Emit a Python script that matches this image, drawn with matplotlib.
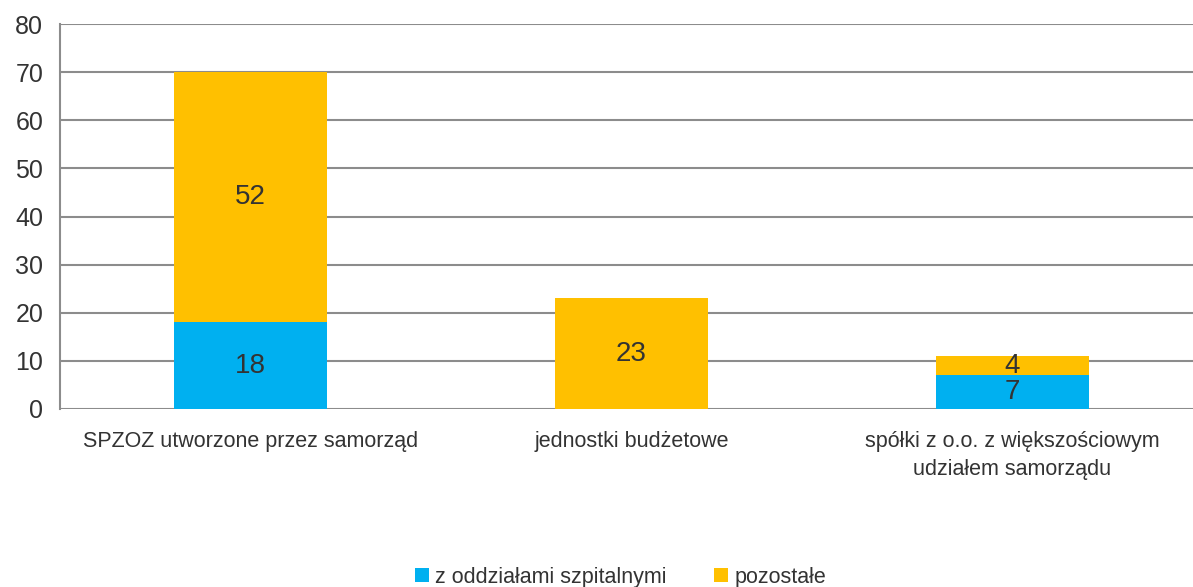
import matplotlib
matplotlib.use("Agg")
import matplotlib.pyplot as plt

categories = ["SPZOZ utworzone przez samorząd", "jednostki budżetowe",
              "spółki z o.o. z większościowym\nudziałem samorządu"]
series_names = ["z oddziałami szpitalnymi", "pozostałe"]
with_wards = [18, 0, 7]
other = [52, 23, 4]
yticks = [0, 10, 20, 30, 40, 50, 60, 70, 80]

blue = "#00B0F0"
orange = "#FFC000"

plt.rcParams["font.family"] = ["Liberation Sans", "DejaVu Sans"]
plt.rcParams["text.color"] = "#333333"

fig = plt.figure(figsize=(11.93, 5.87), dpi=100)
ax = fig.add_axes([60 / 1193, 1 - 409 / 587, 1 - 60 / 1193, 385 / 587])

x = list(range(len(categories)))
w = 0.4
ax.bar(x, with_wards, width=w, color=blue, label=series_names[0], zorder=3)
ax.bar(x, other, width=w, bottom=with_wards, color=orange, label=series_names[1], zorder=3)

for i in x:
    if with_wards[i]:
        ax.text(i, with_wards[i] / 2, str(with_wards[i]), ha="center", va="center",
                fontsize=20, zorder=4)
    if other[i]:
        ax.text(i, with_wards[i] + other[i] / 2, str(other[i]), ha="center", va="center",
                fontsize=20, zorder=4)

ax.set_ylim(0, 80)
ax.set_xlim(-0.5, 2.474)
ax.set_yticks(yticks)
ax.yaxis.grid(True, color="#8c8c8c", linewidth=1.5, zorder=0)
ax.tick_params(axis="y", length=0, labelsize=18, pad=12, labelcolor="#333333")
ax.tick_params(axis="x", length=0, labelsize=15.5, pad=16, labelcolor="#333333")
ax.set_xticks(x)
ax.set_xticklabels(categories, linespacing=1.45)
for s in ["top", "right", "bottom"]:
    ax.spines[s].set_visible(False)
ax.spines["left"].set_color("#8c8c8c")
ax.spines["left"].set_linewidth(1.5)

fig.legend(loc="center", bbox_to_anchor=(0.52, 0.017), ncol=2, frameon=False,
           fontsize=15.5, handlelength=0.65, handleheight=0.65, handletextpad=0.3,
           columnspacing=2.2)

fig.savefig("out.png", dpi=100)
